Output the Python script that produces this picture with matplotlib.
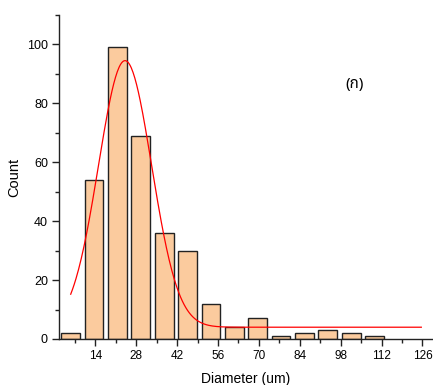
import numpy as np
import matplotlib
matplotlib.use("Agg")
import matplotlib.pyplot as plt
from matplotlib import font_manager
from matplotlib.ft2font import FT2Font
from matplotlib.ticker import MultipleLocator

# Histogram of particle diameters (bin width 8 um, first bin centred at 5.6 um)
bin_start = 1.6
bin_width = 8.0
counts = [2, 54, 99, 69, 36, 30, 12, 4, 7, 1, 2, 3, 2, 1]

# Gaussian fit: y = y0 + A * exp(-(x - xc)^2 / (2 sigma^2))
fit_y0 = 4.0
fit_A = 90.5
fit_xc = 24.2
fit_sigma = 9.1

x_ticks = [14, 28, 42, 56, 70, 84, 98, 112, 126]
y_ticks = [0, 20, 40, 60, 80, 100]
panel_label = "(ก)"


def thai_font():
    preferred = ["Noto Sans Thai", "Noto Sans Thai Looped", "Tahoma", "Loma",
                 "Garuda", "Norasi", "Noto Serif Thai", "DejaVu Sans"]
    found = {}
    for f in font_manager.fontManager.ttflist:
        try:
            if FT2Font(f.fname).get_char_index(ord("ก")):
                found.setdefault(f.name, f.fname)
        except Exception:
            pass
    for name in preferred:
        if name in found:
            return name
    return next(iter(found), "DejaVu Sans")


plt.rcParams["font.family"] = ["Liberation Sans", "DejaVu Sans"]

fig = plt.figure(figsize=(4.33, 3.85), dpi=100)
ax = fig.add_axes([0.1363, 0.1195, 0.8637, 0.8416])

centers = bin_start + bin_width * (np.arange(len(counts)) + 0.5)
ax.bar(centers, counts, width=bin_width * 0.8, color="#FBCB9E",
       edgecolor="#222222", linewidth=1.0, zorder=2)

xfit = np.linspace(centers[0], bin_start + bin_width * 15.5, 400)
yfit = fit_y0 + fit_A * np.exp(-(xfit - fit_xc) ** 2 / (2 * fit_sigma ** 2))
ax.plot(xfit, yfit, color="red", linewidth=0.9, zorder=3)

ax.set_xlim(bin_start, bin_start + bin_width * 16)
ax.set_ylim(0, 110)
ax.set_xticks(x_ticks)
ax.set_yticks(y_ticks)
ax.xaxis.set_minor_locator(MultipleLocator(7))
ax.yaxis.set_minor_locator(MultipleLocator(10))
ax.tick_params(which="major", length=5, width=1, color="#222222")
ax.tick_params(which="minor", length=3, width=1, color="#222222")
ax.tick_params(axis="x", which="major", labelsize=8.5, pad=3)
ax.tick_params(axis="y", which="major", labelsize=9, pad=3)

for side in ("top", "right"):
    ax.spines[side].set_visible(False)
for side in ("left", "bottom"):
    ax.spines[side].set_linewidth(1.0)
    ax.spines[side].set_color("#222222")

ax.set_xlabel("Diameter (um)", fontsize=10, labelpad=7)
ax.set_ylabel("Count", fontsize=10.5, labelpad=4)

ax.text(0.789, 0.784, panel_label, transform=ax.transAxes, fontsize=11,
        family=[thai_font(), "DejaVu Sans"], ha="center", va="center")

fig.savefig("out.png", dpi=100)
